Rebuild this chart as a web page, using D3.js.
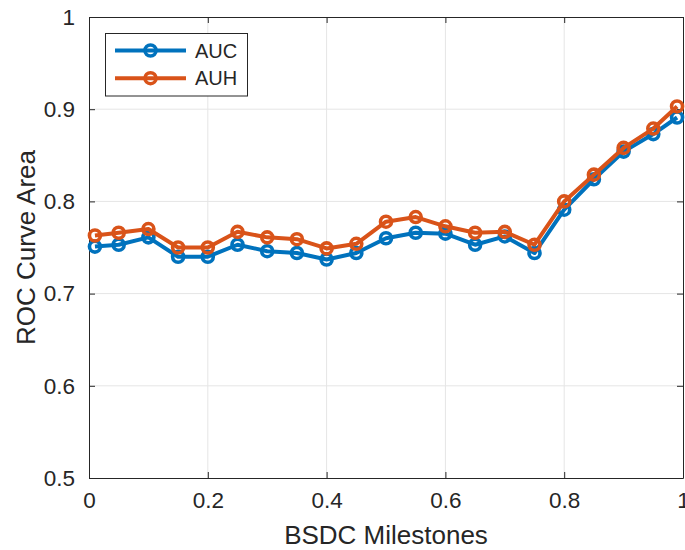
<!DOCTYPE html>
<html>
<head>
<meta charset="utf-8">
<script src="https://cdn.jsdelivr.net/npm/d3@7"></script>
<style>
  body { margin: 0; background: #fff; }
  text { font-family: "Liberation Sans", Arial, Helvetica, sans-serif; fill: #262626; }
</style>
</head>
<body>
<div id="container"></div>
<script>
const milestones = [0.01,0.05,0.1,0.15,0.2,0.25,0.3,0.35,0.4,0.45,0.5,0.55,0.6,0.65,0.7,0.75,0.8,0.85,0.9,0.95,0.99];
const auc = [0.751,0.753,0.761,0.740,0.740,0.753,0.746,0.744,0.737,0.744,0.760,0.766,0.765,0.753,0.762,0.744,0.791,0.824,0.854,0.873,0.891];
const auh = [0.763,0.766,0.770,0.750,0.750,0.767,0.761,0.759,0.749,0.754,0.778,0.783,0.773,0.766,0.767,0.753,0.800,0.829,0.858,0.879,0.903];
const xTicks = [0,0.2,0.4,0.6,0.8,1];
const yTicks = [0.5,0.6,0.7,0.8,0.9,1];
const seriesNames = ["AUC","AUH"];
const colors = ["#0072BD","#D95319"];

const width = 685, height = 550;
const pLeft = 89, pRight = 683, pTop = 17, pBottom = 478;

const svg = d3.select("#container")
  .append("svg")
    .attr("width", width)
    .attr("height", height);

const x = d3.scaleLinear().domain([0,1]).range([pLeft,pRight]);
const y = d3.scaleLinear().domain([0.5,1]).range([pBottom,pTop]);
const fmt = d => d3.format("")(+d.toFixed(1));

// grid
svg.append("g")
    .attr("stroke","#e5e5e5")
    .attr("stroke-width",1)
  .selectAll("line")
    .data(xTicks.slice(1,-1))
    .join("line")
      .attr("x1",d=>x(d)).attr("x2",d=>x(d))
      .attr("y1",pTop).attr("y2",pBottom);
svg.append("g")
    .attr("stroke","#e5e5e5")
    .attr("stroke-width",1)
  .selectAll("line")
    .data(yTicks.slice(1,-1))
    .join("line")
      .attr("y1",d=>y(d)).attr("y2",d=>y(d))
      .attr("x1",pLeft).attr("x2",pRight);

// axes (box with inner ticks on all sides)
const tickIn = 6;
const axisStyle = g => {
  g.select(".domain").attr("stroke","#262626");
  g.selectAll(".tick line").attr("stroke","#262626");
  g.selectAll("text").attr("fill","#262626").style("font-size","22.5px").style("font-family","Liberation Sans, Arial, sans-serif");
};
svg.append("g")
    .attr("transform","translate(0,"+pBottom+")")
    .call(d3.axisBottom(x).tickValues(xTicks).tickSize(-tickIn).tickPadding(14).tickFormat(fmt).tickSizeOuter(0))
    .call(axisStyle);
svg.append("g")
    .attr("transform","translate("+pLeft+",0)")
    .call(d3.axisLeft(y).tickValues(yTicks).tickSize(-tickIn).tickPadding(14).tickFormat(fmt).tickSizeOuter(0))
    .call(axisStyle);
svg.append("g")
    .attr("transform","translate(0,"+pTop+")")
    .call(d3.axisTop(x).tickValues(xTicks).tickSize(-tickIn).tickFormat("").tickSizeOuter(0))
    .call(axisStyle);
svg.append("g")
    .attr("transform","translate("+pRight+",0)")
    .call(d3.axisRight(y).tickValues(yTicks).tickSize(-tickIn).tickFormat("").tickSizeOuter(0))
    .call(axisStyle);

// series
const series = [auc, auh];
const line = d3.line().x((d,i)=>x(milestones[i])).y(d=>y(d));
series.forEach(function(vals,k){
  const g = svg.append("g");
  g.append("path")
    .datum(vals)
    .attr("fill","none")
    .attr("stroke",colors[k])
    .attr("stroke-width",4)
    .attr("stroke-linejoin","round")
    .attr("d",line);
  g.selectAll("circle")
    .data(vals)
    .join("circle")
      .attr("cx",(d,i)=>x(milestones[i]))
      .attr("cy",d=>y(d))
      .attr("r",5.5)
      .attr("fill","none")
      .attr("stroke",colors[k])
      .attr("stroke-width",3.6);
});

// labels
svg.append("text")
    .attr("x",(pLeft+pRight)/2)
    .attr("y",544)
    .attr("text-anchor","middle")
    .style("font-size","26px")
    .text("BSDC Milestones");
svg.append("text")
    .attr("transform","translate(35,"+((pTop+pBottom)/2)+") rotate(-90)")
    .attr("text-anchor","middle")
    .style("font-size","26px")
    .text("ROC Curve Area");

// legend
const legend = svg.append("g");
legend.append("rect")
    .attr("x",105.5).attr("y",33.5)
    .attr("width",142).attr("height",62.5)
    .attr("fill","#fff")
    .attr("stroke","#262626")
    .attr("stroke-width",1);
seriesNames.forEach(function(name,k){
  const ly = 50.5 + k*27.7;
  legend.append("line")
    .attr("x1",115).attr("x2",186)
    .attr("y1",ly).attr("y2",ly)
    .attr("stroke",colors[k])
    .attr("stroke-width",4);
  legend.append("circle")
    .attr("cx",150.5).attr("cy",ly).attr("r",5.5)
    .attr("fill","none")
    .attr("stroke",colors[k])
    .attr("stroke-width",3.6);
  legend.append("text")
    .attr("x",195).attr("y",ly)
    .attr("dy","0.35em")
    .style("font-size","20px")
    .text(name);
});
</script>
</body>
</html>
